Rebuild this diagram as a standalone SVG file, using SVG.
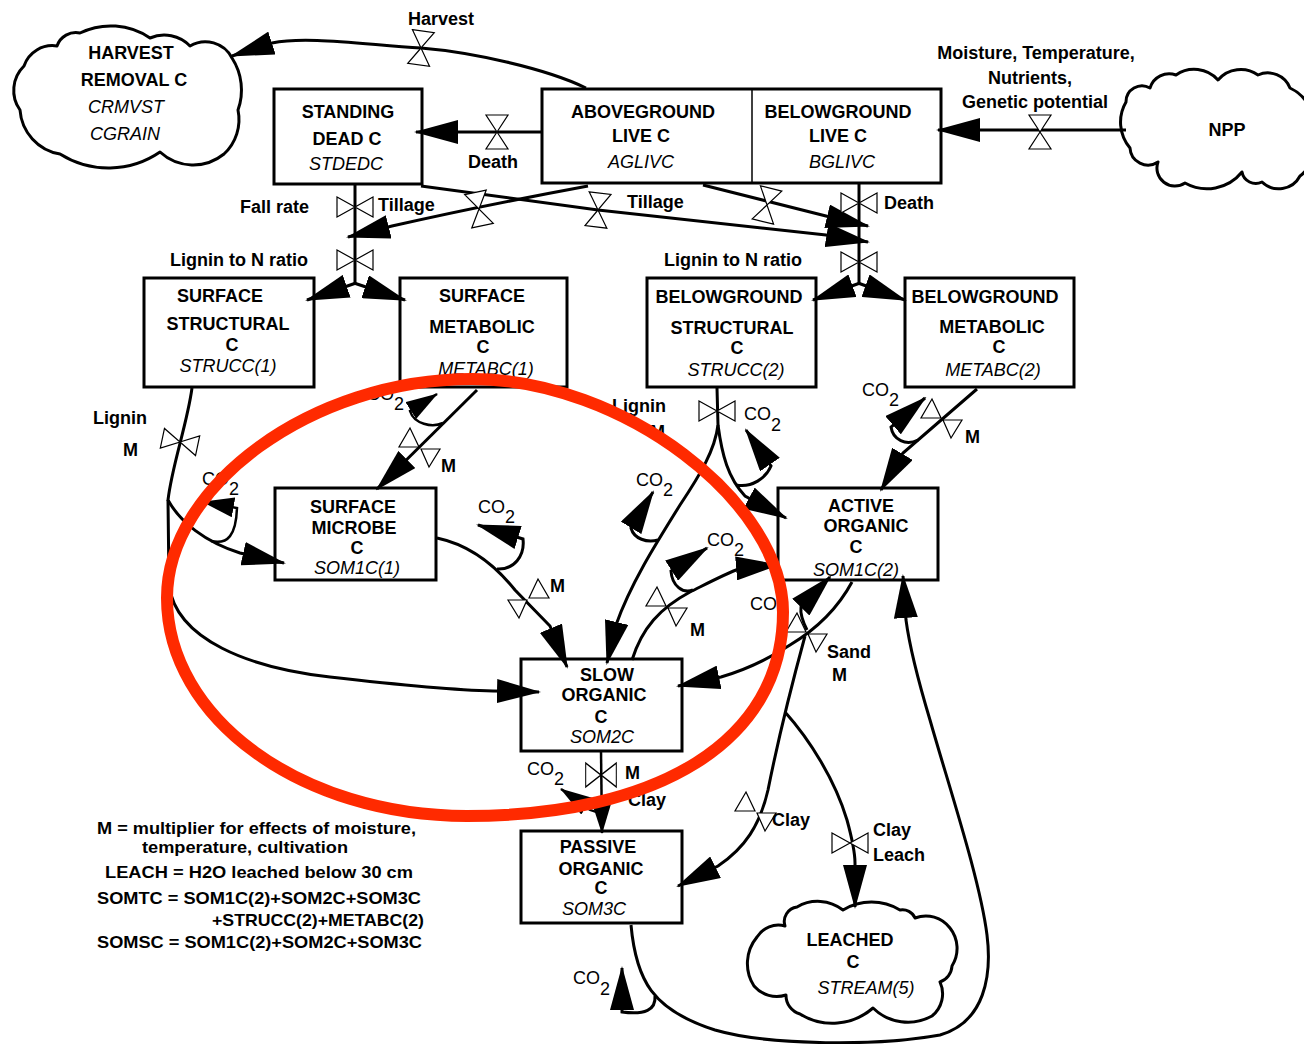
<svg xmlns="http://www.w3.org/2000/svg" width="1304" height="1044" viewBox="0 0 1304 1044">
<style>
.box{fill:#fff;stroke:#000;stroke-width:3}
.cloud{fill:#fff;stroke:#000;stroke-width:3;stroke-linejoin:round}
.t{font-family:"Liberation Sans",Arial,sans-serif;font-size:18px;font-weight:bold;text-anchor:middle}
.i{font-family:"Liberation Sans",Arial,sans-serif;font-size:18px;font-style:italic;text-anchor:middle}
.lb{font-family:"Liberation Sans",Arial,sans-serif;font-size:18px;font-weight:bold}
.lg{font-family:"Liberation Sans",Arial,sans-serif;font-size:17px;font-weight:bold}
.co{font-family:"Liberation Sans",Arial,sans-serif;font-size:18px}
.flow{fill:none;stroke:#000;stroke-width:3;marker-end:url(#ah)}
.flows{fill:none;stroke:#000;stroke-width:2.5;marker-end:url(#ahs)}
.line{fill:none;stroke:#000;stroke-width:3}
.valve{fill:#fff;stroke:#000;stroke-width:1.2}
.red{fill:none;stroke:#ff2a00;stroke-width:12}
</style>
<defs>
<marker id="ah" viewBox="0 0 44 24" refX="42" refY="12" markerWidth="44" markerHeight="24" markerUnits="userSpaceOnUse" orient="auto"><path d="M0,0 L44,12 L0,24 Z"/></marker>
<marker id="ahs" viewBox="0 0 32 20" refX="31" refY="10" markerWidth="32" markerHeight="20" markerUnits="userSpaceOnUse" orient="auto"><path d="M0,0 L32,10 L0,20 Z"/></marker>
<path id="vv" class="valve" d="M-11,-17 L11,-17 L0,0 Z M0,0 L-11,17 L11,17 Z"/>
<path id="vh" class="valve" d="M-18,-10 L-18,10 L0,0 Z M0,0 L18,-10 L18,10 Z"/>
<path id="vd" class="valve" d="M-10,-20 L-21,-1 L-1,-1 Z M1,1 L20,1 L9,19 Z"/>
</defs>
<rect width="1304" height="1044" fill="#fff"/>

<g id="harvest-removal-c">
<path class="cloud" d="M57,46 A20,20 0 0 1 80,33 A70,70 0 0 1 150,38 A36,36 0 0 1 190,46 A30,30 0 0 1 232,58 A59,59 0 0 1 238,110 A47,47 0 0 1 224,154 A49,49 0 0 1 160,152 A91,91 0 0 1 60,154 A48,48 0 0 1 20,110 A34,34 0 0 1 24,66 A30,30 0 0 1 57,46 Z"/>
<text class="t" x="131" y="59">HARVEST</text>
<text class="t" x="134" y="86">REMOVAL C</text>
<text class="i" x="126" y="113">CRMVST</text>
<text class="i" x="125" y="140">CGRAIN</text>
</g>

<g id="npp">
<path class="cloud" d="M1126,102 A16,16 0 0 1 1150,88 A20,20 0 0 1 1176,75 A32,32 0 0 1 1218,80 A30,30 0 0 1 1258,75 A24,24 0 0 1 1290,88 A40,40 0 0 1 1310,140 A30,30 0 0 1 1300,176 A24,24 0 0 1 1262,182 A14,14 0 0 1 1242,172 A45,45 0 0 1 1185,183 A18,18 0 0 1 1158,162 A18,18 0 0 1 1130,148 A40,40 0 0 1 1126,102 Z"/>
<text class="t" x="1227" y="136">NPP</text>
</g>

<g id="leached-c">
<path class="cloud" d="M785,926 A14.6,14.6 0 0 1 797,907 A41,41 0 0 1 843,910 A55,55 0 0 1 900,910 A13.5,13.5 0 0 1 915,918 A30,30 0 0 1 950,928 A33,33 0 0 1 952,966 A18,18 0 0 1 940,982 A28.5,28.5 0 0 1 932,1016 A50,50 0 0 1 873,1008 A61.5,61.5 0 0 1 800,1014 A19.4,19.4 0 0 1 786,995 A30,30 0 0 1 754,986 A41.5,41.5 0 0 1 757,937 A25,25 0 0 1 785,926 Z"/>
<text class="t" x="850" y="946">LEACHED</text>
<text class="t" x="853" y="968">C</text>
<text class="i" x="866" y="994">STREAM(5)</text>
</g>

<g id="standing-dead-c">
<rect class="box" x="274" y="89" width="148" height="95"/>
<text class="t" x="348" y="118">STANDING</text>
<text class="t" x="347" y="145">DEAD C</text>
<text class="i" x="346" y="170">STDEDC</text>
</g>

<g id="live-c">
<rect class="box" x="542" y="89" width="399" height="94"/>
<line x1="752" y1="89" x2="752" y2="183" stroke="#000" stroke-width="1.5"/>
<g id="aboveground-live-c">
<text class="t" x="643" y="118">ABOVEGROUND</text>
<text class="t" x="641" y="142">LIVE C</text>
<text class="i" x="641" y="168">AGLIVC</text>
</g>
<g id="belowground-live-c">
<text class="t" x="838" y="118">BELOWGROUND</text>
<text class="t" x="838" y="142">LIVE C</text>
<text class="i" x="842" y="168">BGLIVC</text>
</g>
</g>

<g id="surface-structural-c">
<rect class="box" x="144" y="278" width="170" height="109"/>
<text class="t" x="220" y="302">SURFACE</text>
<text class="t" x="228" y="330">STRUCTURAL</text>
<text class="t" x="232" y="351">C</text>
<text class="i" x="228" y="372">STRUCC(1)</text>
</g>

<g id="surface-metabolic-c">
<rect class="box" x="400" y="278" width="167" height="109"/>
<text class="t" x="482" y="302">SURFACE</text>
<text class="t" x="482" y="333">METABOLIC</text>
<text class="t" x="483" y="353">C</text>
<text class="i" x="486" y="375">METABC(1)</text>
</g>

<g id="belowground-structural-c">
<rect class="box" x="647" y="278" width="169" height="109"/>
<text class="t" x="729" y="303">BELOWGROUND</text>
<text class="t" x="732" y="334">STRUCTURAL</text>
<text class="t" x="737" y="354">C</text>
<text class="i" x="736" y="376">STRUCC(2)</text>
</g>

<g id="belowground-metabolic-c">
<rect class="box" x="905" y="278" width="169" height="109"/>
<text class="t" x="985" y="303">BELOWGROUND</text>
<text class="t" x="992" y="333">METABOLIC</text>
<text class="t" x="999" y="353">C</text>
<text class="i" x="993" y="376">METABC(2)</text>
</g>

<g id="surface-microbe-c">
<rect class="box" x="275" y="488" width="161" height="92"/>
<text class="t" x="353" y="513">SURFACE</text>
<text class="t" x="354" y="534">MICROBE</text>
<text class="t" x="357" y="554">C</text>
<text class="i" x="357" y="574">SOM1C(1)</text>
</g>

<g id="active-organic-c">
<rect class="box" x="778" y="488" width="160" height="92"/>
<text class="t" x="861" y="512">ACTIVE</text>
<text class="t" x="866" y="532">ORGANIC</text>
<text class="t" x="856" y="553">C</text>
<text class="i" x="856" y="576">SOM1C(2)</text>
</g>

<g id="slow-organic-c">
<rect class="box" x="521" y="659" width="161" height="92"/>
<text class="t" x="607" y="681">SLOW</text>
<text class="t" x="604" y="701">ORGANIC</text>
<text class="t" x="601" y="723">C</text>
<text class="i" x="602" y="743">SOM2C</text>
</g>

<g id="passive-organic-c">
<rect class="box" x="521" y="831" width="161" height="92"/>
<text class="t" x="598" y="853">PASSIVE</text>
<text class="t" x="601" y="875">ORGANIC</text>
<text class="t" x="601" y="894">C</text>
<text class="i" x="594" y="915">SOM3C</text>
</g>

<g id="connectors">
<path class="flow" d="M586,88 C545,68 470,52 421,48 C360,44 305,36 272,43 L232,56"/>
<path class="flow" d="M542,132 L416,132"/>
<path class="flow" d="M1126,130 L938,130"/>
<path class="line" d="M355,185 L355,284"/>
<path class="flow" d="M356,283 L307,300"/>
<path class="flow" d="M354,283 L405,300"/>
<path class="flow" d="M588,186 Q480,206 392,226 L348,237"/>
<path class="flow" d="M421,186 L598,210 L826,235 L868,242"/>
<path class="flow" d="M703,185 L826,216 L868,226"/>
<path class="line" d="M859,184 L859,284"/>
<path class="flow" d="M860,283 L813,300"/>
<path class="flow" d="M858,283 L905,300"/>
<path class="flow" d="M192,388 C187,425 172,465 168,500 C180,522 205,542 240,553 L284,563"/>
<path class="flow" d="M168,500 L169,585 C176,640 250,668 330,677 C400,685 450,690 493,691 L539,692"/>
<path class="flows" d="M211,541 C228,545 236,535 237,508 L203,502"/>
<path class="flow" d="M477,390 L377,489"/>
<path class="flows" d="M443,423 C432,428 414,424 410,411 L437,394"/>
<path class="flow" d="M437,538 C470,545 495,565 515,590 L550,626 L567,667"/>
<path class="flow" d="M497,569 C514,570 525,556 523,539 L478,525"/>
<path class="flow" d="M717,388 L718,425 C715,450 700,475 680,505 C655,545 630,585 616,625 L607,663"/>
<path class="flow" d="M718,425 C722,455 728,478 745,496 L786,518"/>
<path class="flow" d="M658,540 C647,543 634,539 631,528 L653,492"/>
<path class="flow" d="M736,485 C752,488 766,478 771,466 L746,430"/>
<path class="flow" d="M977,389 L903,453 L881,490"/>
<path class="flow" d="M918,440 C906,446 893,440 891,427 L925,398"/>
<path class="flow" d="M632,660 C642,628 660,608 690,592 C710,582 725,574 741,568 L778,565"/>
<path class="flow" d="M693,590 C683,594 672,586 671,571 L707,548"/>
<path class="flow" d="M852,582 C838,608 815,630 790,645 C770,658 745,670 721,677 L678,686"/>
<path class="flow" d="M807,630 C803,622 800,614 801,607 L830,577"/>
<path class="flow" d="M805,636 C793,680 778,740 768,790 C760,825 745,848 718,866 L678,886"/>
<path class="flow" d="M785,712 C810,740 835,780 847,820 C853,842 855,855 855,863 L855,907"/>
<path class="flow" d="M631,925 C636,980 652,1010 715,1030 C770,1046 880,1046 940,1035 C985,1022 992,975 987,935 C980,880 950,790 930,720 C918,680 910,650 906,620 L903,576"/>
<path class="flow" d="M655,996 C656,1010 645,1015 622,1012 L622,968"/>
<path class="flows" d="M601,751 L602,833"/>
<path class="flows" d="M601,812 C593,812 587,809 585,805 L561,789"/>
</g>

<g id="valves">
<use href="#vv" transform="translate(421,48) rotate(8)"/>
<use href="#vv" transform="translate(497,132)"/>
<use href="#vv" transform="translate(1040,132)"/>
<use href="#vh" transform="translate(355,207)"/>
<use href="#vh" transform="translate(355,260)"/>
<use href="#vv" transform="translate(479,209) rotate(-12)"/>
<use href="#vv" transform="translate(598,210) rotate(7)"/>
<use href="#vv" transform="translate(767,205) rotate(14)"/>
<use href="#vh" transform="translate(859,203)"/>
<use href="#vh" transform="translate(859,262)"/>
<use href="#vh" transform="translate(180,442) rotate(12)"/>
<use href="#vh" transform="translate(717,411)"/>
<use href="#vd" transform="translate(420,448)"/>
<use href="#vd" transform="translate(528,599) scale(-1,1)"/>
<use href="#vd" transform="translate(942,419)"/>
<use href="#vd" transform="translate(667,607)"/>
<use href="#vd" transform="translate(807,633)"/>
<use href="#vd" transform="translate(756,812)"/>
<use href="#vh" transform="translate(850,843)"/>
<use href="#vh" transform="translate(601,775) scale(0.85,1.2)"/>
</g>

<g id="labels">
<text class="t" x="441" y="25">Harvest</text>
<text class="t" x="493" y="168">Death</text>
<text class="t" x="1036" y="59">Moisture, Temperature,</text>
<text class="t" x="1030" y="84">Nutrients,</text>
<text class="t" x="1035" y="108">Genetic potential</text>
<text class="lb" x="240" y="213">Fall rate</text>
<text class="lb" x="378" y="211">Tillage</text>
<text class="lb" x="627" y="208">Tillage</text>
<text class="lb" x="884" y="209">Death</text>
<text class="lb" x="170" y="266">Lignin to N ratio</text>
<text class="lb" x="664" y="266">Lignin to N ratio</text>
<text class="lb" x="93" y="424">Lignin</text>
<text class="lb" x="123" y="456">M</text>
<text class="co" x="202" y="485">CO<tspan dy="10">2</tspan></text>
<text class="co" x="367" y="400">CO<tspan dy="10">2</tspan></text>
<text class="lb" x="441" y="472">M</text>
<text class="co" x="478" y="513">CO<tspan dy="10">2</tspan></text>
<text class="lb" x="550" y="592">M</text>
<text class="co" x="636" y="486">CO<tspan dy="10">2</tspan></text>
<text class="co" x="707" y="546">CO<tspan dy="10">2</tspan></text>
<text class="lb" x="690" y="636">M</text>
<text class="lb" x="612" y="412">Lignin</text>
<text class="lb" x="650" y="438">M</text>
<text class="co" x="744" y="420">CO<tspan dy="11">2</tspan></text>
<text class="co" x="862" y="396">CO<tspan dy="10">2</tspan></text>
<text class="lb" x="965" y="443">M</text>
<text class="co" x="750" y="610">CO<tspan dy="10">2</tspan></text>
<text class="lb" x="827" y="658">Sand</text>
<text class="lb" x="832" y="681">M</text>
<text class="lb" x="772" y="826">Clay</text>
<text class="lb" x="873" y="836">Clay</text>
<text class="lb" x="873" y="861">Leach</text>
<text class="co" x="527" y="775">CO<tspan dy="10">2</tspan></text>
<text class="lb" x="625" y="779">M</text>
<text class="lb" x="628" y="806">Clay</text>
<text class="co" x="573" y="984">CO<tspan dy="11">2</tspan></text>
</g>

<g id="legend">
<text class="lg" x="97" y="834" textLength="319" lengthAdjust="spacingAndGlyphs">M = multiplier for effects of moisture,</text>
<text class="lg" x="142" y="853" textLength="206" lengthAdjust="spacingAndGlyphs">temperature, cultivation</text>
<text class="lg" x="105" y="878" textLength="308" lengthAdjust="spacingAndGlyphs">LEACH = H2O leached below 30 cm</text>
<text class="lg" x="97" y="904" textLength="324" lengthAdjust="spacingAndGlyphs">SOMTC = SOM1C(2)+SOM2C+SOM3C</text>
<text class="lg" x="212" y="926" textLength="212" lengthAdjust="spacingAndGlyphs">+STRUCC(2)+METABC(2)</text>
<text class="lg" x="97" y="948" textLength="325" lengthAdjust="spacingAndGlyphs">SOMSC = SOM1C(2)+SOM2C+SOM3C</text>
</g>

<path id="highlight" class="red" d="M472,379 C622,379 783,502 783,612 C783,742 657,816 467,816 C301,816 167,718 167,598 C167,486 312,379 472,379 Z"/>
</svg>
